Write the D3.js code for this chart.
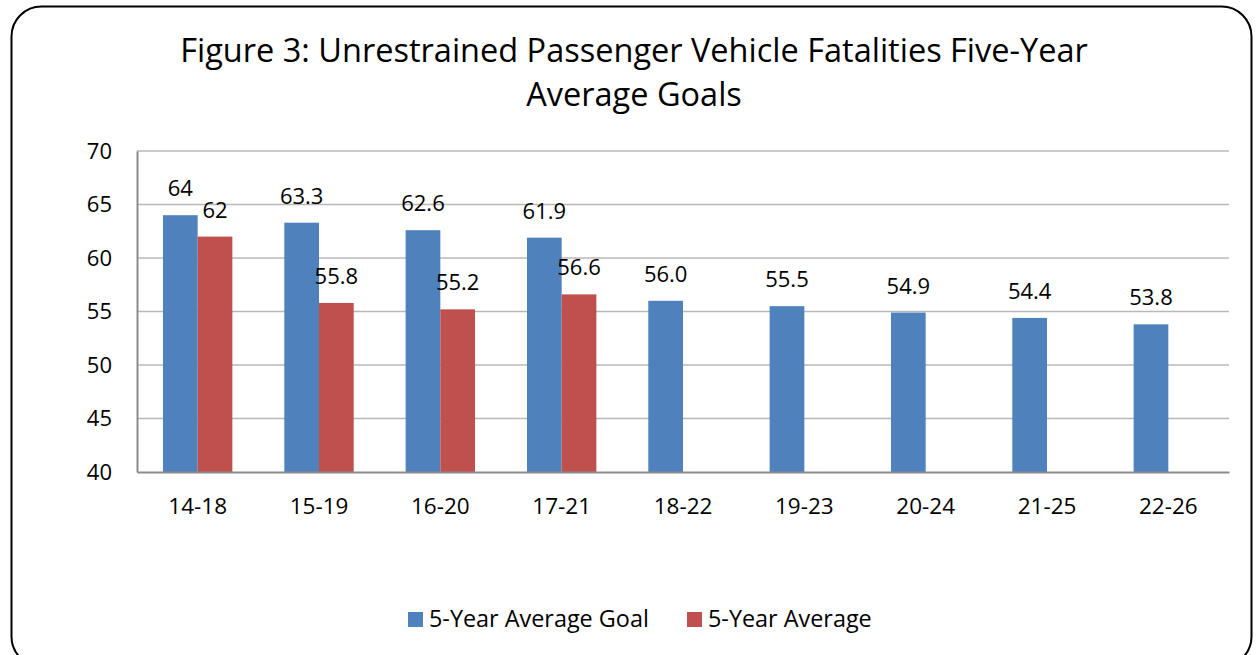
<!DOCTYPE html>
<html>
<head>
<meta charset="utf-8">
<script src="https://cdn.jsdelivr.net/npm/d3@7"></script>
<style>
  body { margin: 0; background: #fff; }
  text { font-family: "Open Sans", sans-serif; fill: #000; }
</style>
</head>
<body>
<svg width="1257" height="655"></svg>
<script>
// chart data
const categories = ['14-18', '15-19', '16-20', '17-21', '18-22', '19-23', '20-24', '21-25', '22-26']
const goalValues = [64, 63.3, 62.6, 61.9, 56.0, 55.5, 54.9, 54.4, 53.8]
const goalLabels = ['64', '63.3', '62.6', '61.9', '56.0', '55.5', '54.9', '54.4', '53.8']
const avgValues = [62, 55.8, 55.2, 56.6, null, null, null, null, null]
const avgLabels = ['62', '55.8', '55.2', '56.6', '', '', '', '', '']
const yTicks = [40, 45, 50, 55, 60, 65, 70]
const seriesNames = ['5-Year Average Goal', '5-Year Average']
const colors = ['#4f81bd', '#c0504d']
const font = '"Open Sans", sans-serif'

const svg = d3.select('svg')

// outer rounded frame
svg.append('rect')
  .attr('x', 11.5).attr('y', 6.5)
  .attr('width', 1240).attr('height', 660)
  .attr('rx', 30).attr('ry', 30)
  .attr('fill', 'none').attr('stroke', '#000').attr('stroke-width', 2)

// title
const title = svg.append('text')
  .attr('text-anchor', 'middle')
  .style('font-size', '32.5px')
title.append('tspan').attr('x', 634).attr('y', 62).text('Figure 3: Unrestrained Passenger Vehicle Fatalities Five-Year')
title.append('tspan').attr('x', 634).attr('y', 106).text('Average Goals')

const plot = {left: 137, right: 1229, top: 151, bottom: 472}

const x = d3.scaleBand().domain(categories).range([plot.left, plot.right])
const y = d3.scaleLinear().domain([40, 70]).range([plot.bottom, plot.top])
const barW = x.bandwidth() * 0.286

// gridlines
svg.append('g')
  .selectAll('line').data(yTicks.slice(1)).join('line')
  .attr('x1', plot.left).attr('x2', plot.right)
  .attr('y1', d => y(d)).attr('y2', d => y(d))
  .attr('stroke', '#b8b8b8').attr('stroke-width', 1.3)

// y axis
const yAxis = svg.append('g')
  .attr('transform', `translate(${plot.left},0)`)
  .call(d3.axisLeft(y).tickValues(yTicks).tickSize(0).tickPadding(25))
yAxis.select('.domain').attr('stroke', '#8c8c8c').attr('stroke-width', 2)
yAxis.selectAll('text')
  .style('font-size', '22px').style('font-family', font).attr('fill', '#000')

// bars
const goalBars = svg.append('g')
goalBars.selectAll('rect').data(categories).join('rect')
  .attr('x', d => x(d) + x.bandwidth() / 2 - barW)
  .attr('width', barW)
  .attr('y', (d, i) => y(goalValues[i]))
  .attr('height', (d, i) => y(40) - y(goalValues[i]))
  .attr('fill', colors[0])

const avgCats = categories.filter((d, i) => avgValues[i] != null)
const avgBars = svg.append('g')
avgBars.selectAll('rect').data(avgCats).join('rect')
  .attr('x', d => x(d) + x.bandwidth() / 2)
  .attr('width', barW)
  .attr('y', (d, i) => y(avgValues[i]))
  .attr('height', (d, i) => y(40) - y(avgValues[i]))
  .attr('fill', colors[1])

// x axis
const xAxis = svg.append('g')
  .attr('transform', `translate(0,${plot.bottom})`)
  .call(d3.axisBottom(x).tickSize(0).tickPadding(26))
xAxis.select('.domain').attr('stroke', '#8c8c8c').attr('stroke-width', 2)
xAxis.selectAll('text')
  .style('font-size', '22.5px').style('font-family', font).attr('fill', '#000')

// value labels
svg.append('g').selectAll('text').data(categories).join('text')
  .attr('x', d => x(d) + x.bandwidth() / 2 - barW / 2)
  .attr('y', (d, i) => y(goalValues[i]) - 19)
  .attr('text-anchor', 'middle')
  .style('font-size', '22px')
  .text((d, i) => goalLabels[i])

svg.append('g').selectAll('text').data(avgCats).join('text')
  .attr('x', d => x(d) + x.bandwidth() / 2 + barW / 2)
  .attr('y', (d, i) => y(avgValues[i]) - 19)
  .attr('text-anchor', 'middle')
  .style('font-size', '22px')
  .text((d, i) => avgLabels[i])

// legend
const legendX = [408, 687]
const legend = svg.append('g')
seriesNames.forEach((name, i) => {
  legend.append('rect')
    .attr('x', legendX[i]).attr('y', 612)
    .attr('width', 15).attr('height', 15)
    .attr('fill', colors[i])
  legend.append('text')
    .attr('x', legendX[i] + 21).attr('y', 627)
    .style('font-size', '23.4px')
    .text(name)
})
</script>
</body>
</html>
